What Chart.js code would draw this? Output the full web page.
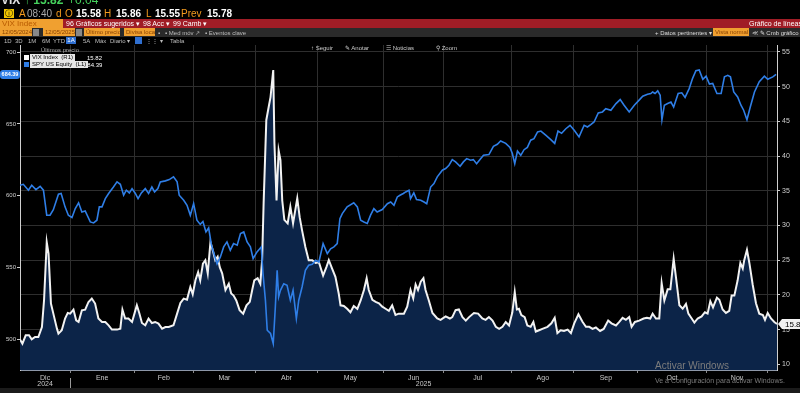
<!doctype html>
<html>
<head>
<meta charset="utf-8" />
<title>VIX Index vs SPY US Equity</title>
<script src="https://cdn.jsdelivr.net/npm/chart.js@4.4.1/dist/chart.umd.min.js"></script>
<style>
  html, body { margin: 0; padding: 0; background: #000; }
  body { width: 800px; height: 393px; position: relative; overflow: hidden;
         font-family: "Liberation Sans", Arial, sans-serif; }
  canvas { position: absolute; left: 0; top: 0; z-index: 1; }
  .t { position: absolute; white-space: nowrap; line-height: 1; z-index: 2; }
  .bar { position: absolute; left: 0; width: 800px; z-index: 2; }
  .ob { position: absolute; background: #f0a030; color: #8a4300; font-size: 6px;
        height: 8px; line-height: 8px; padding-left: 2px; z-index: 3; box-sizing: border-box;
        white-space: nowrap; overflow: hidden; }
  .g { color: #bdbdbd; font-size: 6px; }
  .o { color: #f39a1e; }
  .w { color: #fff; font-weight: bold; }
  .sq { position: absolute; width: 5px; height: 5px; z-index: 3; }
  .lab { position: absolute; background: #e6e6e6; color: #000; font-size: 6px;
         height: 7px; line-height: 7px; padding: 0 2px; z-index: 3; white-space: nowrap; }
</style>
</head>
<body>
<canvas id="chart" width="800" height="393"></canvas>

<!-- top quote line -->
<div class="t" style="left:1px;top:-6px;font-size:12px;font-weight:bold;color:#e0e0e0">VIX</div>
<div class="t" style="left:24px;top:-6px;font-size:12px;font-weight:bold;color:#45d05c">&#8593; 15.82</div>
<div class="t" style="left:68px;top:-6px;font-size:12px;color:#45d05c">+0.04</div>

<div class="t" style="left:4px;top:9px;width:10px;height:9px;background:#f2c400;color:#000;font-size:8px;text-align:center;line-height:9px">&#9432;</div>
<div class="t o" style="left:19px;top:9px;font-size:10px">A</div>
<div class="t" style="left:27px;top:9px;font-size:10px;color:#aaa">08:40</div>
<div class="t o" style="left:56px;top:9px;font-size:10px">d</div>
<div class="t o" style="left:65px;top:9px;font-size:10px">O</div>
<div class="t w" style="left:76px;top:9px;font-size:10px">15.58</div>
<div class="t o" style="left:104px;top:9px;font-size:10px">H</div>
<div class="t w" style="left:116px;top:9px;font-size:10px">15.86</div>
<div class="t o" style="left:146px;top:9px;font-size:10px">L</div>
<div class="t w" style="left:155px;top:9px;font-size:10px">15.55</div>
<div class="t o" style="left:181px;top:9px;font-size:10px">Prev</div>
<div class="t w" style="left:207px;top:9px;font-size:10px">15.78</div>

<!-- red menu bar -->
<div class="bar" style="top:19px;height:9px;background:#a01d26"></div>
<div class="ob" style="left:0;top:19px;width:63px;height:9px;line-height:9px;font-size:8px;color:#b85a00">VIX Index</div>
<div class="t" style="left:66px;top:20px;font-size:7px;color:#fff">96 Gráficos sugeridos &#9662;</div>
<div class="t" style="left:143px;top:20px;font-size:7px;color:#fff">98 Acc &#9662;</div>
<div class="t" style="left:173px;top:20px;font-size:7px;color:#fff">99 Camb &#9662;</div>
<div class="t" style="left:749px;top:20px;font-size:7px;color:#fff">Gráfico de líneas</div>

<!-- options bar -->
<div class="bar" style="top:28px;height:9px;background:#2a2a2a"></div>
<div class="ob" style="left:0;top:28px;width:32px">12/05/2024</div>
<div class="t" style="left:33px;top:29px;width:6px;height:7px;background:#888"></div>
<div class="ob" style="left:43px;top:28px;width:32px">12/05/2025</div>
<div class="t" style="left:76px;top:29px;width:6px;height:7px;background:#888"></div>
<div class="ob" style="left:84px;top:28px;width:36px">Último precio</div>
<div class="ob" style="left:124px;top:28px;width:31px">Divisa local</div>
<div class="t g" style="left:158px;top:30px">&#9642;</div>
<div class="t g" style="left:165px;top:30px">&#9642; Med móv &#8599;</div>
<div class="t g" style="left:205px;top:30px">&#9642; Eventos clave</div>
<div class="t g" style="left:655px;top:30px;color:#ddd">+ Datos pertinentes &#9662;</div>
<div class="ob" style="left:713px;top:28px;width:36px">Vista normal</div>
<div class="t g" style="left:752px;top:30px;color:#ddd">&#8810; &#9998; Cmb gráfico &#9662;</div>

<!-- period row -->
<div class="t g" style="left:4px;top:38px">1D</div>
<div class="t g" style="left:15px;top:38px">3D</div>
<div class="t g" style="left:28px;top:38px">1M</div>
<div class="t g" style="left:42px;top:38px">6M</div>
<div class="t g" style="left:53px;top:38px">YTD</div>
<div class="t g" style="left:66px;top:37px;width:10px;height:7px;background:#2f6fd0;color:#fff;text-align:center;line-height:7px">1A</div>
<div class="t g" style="left:83px;top:38px">5A</div>
<div class="t g" style="left:95px;top:38px">Máx</div>
<div class="t g" style="left:110px;top:38px">Diario &#9662;</div>
<div class="t g" style="left:135px;top:37px;width:7px;height:7px;background:#2f6fd0"></div>
<div class="t g" style="left:146px;top:38px">&#8942;&#8942; &#9662;</div>
<div class="t g" style="left:170px;top:38px">Tabla</div>

<!-- chart toolbar -->
<div class="t g" style="left:311px;top:45px;color:#ccc">&#8593; Seguir</div>
<div class="t g" style="left:345px;top:45px;color:#ccc">&#9998; Anotar</div>
<div class="t g" style="left:386px;top:45px;color:#ccc">&#9776; Noticias</div>
<div class="t g" style="left:436px;top:45px;color:#ccc">&#9906; Zoom</div>

<!-- legend -->
<div class="t g" style="left:41px;top:47px;color:#aaa">Últimos precio</div>
<div class="sq" style="left:24px;top:55px;background:#fff"></div>
<div class="lab" style="left:30px;top:54px">VIX Index &nbsp;(R1)</div>
<div class="t" style="left:87px;top:55px;font-size:6px;color:#fff">15.82</div>
<div class="sq" style="left:24px;top:62px;background:#2f7ee6"></div>
<div class="lab" style="left:30px;top:61px">SPY US Equity &nbsp;(L1)</div>
<div class="t" style="left:84px;top:62px;font-size:6px;color:#fff">684.39</div>

<!-- watermark -->
<div class="t" style="left:655px;top:361px;font-size:10px;color:#7c7c7c">Activar Windows</div>
<div class="t" style="left:655px;top:377px;font-size:7px;color:#7c7c7c">Ve a Configuración para activar Windows.</div>

<div style="position:absolute;left:0;top:388px;width:800px;height:5px;background:#1b1b1b;z-index:0"></div>

<script>
// trading sessions counted from 12/05/2024
const spySessions = [
  1.3, 2.4, 4.1, 5.2, 6.6, 8, 9.1, 10.2, 11.3, 12.4,
  14.1, 15, 16.3, 17.4, 18.6, 19.7, 20.8, 21.9, 23, 24.7,
  25.8, 26.9, 27.7, 28.6, 29.7, 30.8, 32.4, 33.6, 34.7, 35.8,
  36.7, 37.7, 38.6, 39.7, 40.6, 41.7, 43, 44.1, 45.2, 46.1,
  47.2, 48, 49.7, 51, 52.4, 53.6, 54.3, 55.8, 56.9, 58,
  59.1, 60.2, 61.3, 62.2, 63.2, 64.1, 65, 66.1, 66.9, 68,
  69.1, 70.2, 71.3, 72.4, 73.6, 74.7, 75.8, 76.9, 78, 78.9,
  80.2, 81.6, 82.2, 83, 83.6, 84.7, 85.6, 86.3, 86.9, 87.4,
  88, 89.1, 90.2, 91.3, 92.2, 93.3, 94.1, 95.2, 96.3, 97.4,
  98.6, 99.7, 100.8, 102.2, 103.6, 104.7, 105.8, 106.9, 107.8, 108.6,
  110.2, 112.4, 113.6, 114.7, 115.8, 116.9, 118, 119.1, 120.2, 121.9,
  123.6, 124.7, 125.8, 126.9, 127.8, 128.9, 129.7, 130.8, 131.3, 132.4,
  133.3, 134.7, 135.8, 136.7, 138, 139.1, 140.2, 141.9, 143, 144.1,
  145.2, 146.3, 147.8, 148.9, 150, 151.3, 152.2, 153.3, 154.7, 155.6,
  157.4, 158.9, 160.2, 161.3, 163, 164.4, 165.2, 166, 166.9, 168,
  169.1, 170.2, 171.3, 172.4, 173.6, 174.7, 176.3, 178, 179.3, 180.4,
  181.6, 183, 184.4, 185.8, 187.4, 189.1, 190.2, 191.3, 192.4, 193.8,
  195.2, 196.3, 198, 199.7, 201.1, 202.4, 204.1, 205.8, 207.4, 208.6,
  210.2, 211.3, 211.9, 212.7, 213.6, 214.4, 215, 215.8, 216.9, 218,
  218.9, 220.4, 221.6, 222.7, 224.1, 225.2, 226.3, 227.4, 228.6, 229.7,
  230.8, 231.9, 233.3, 234.7, 235.8, 236.9, 237.8, 238.9, 240.2, 241.3,
  242.2, 243.3, 244.4, 245.8, 247.4, 249.1, 250.2, 251.9, 253
];
const spyClose = [
  607.2, 607.9, 603.8, 607.2, 604.2, 606.5, 603.8, 586.4, 586.4, 590.2,
  601, 601.5, 592.2, 586.4, 584.7, 591, 595, 588.6, 589.3, 581.7,
  581, 582.9, 592.2, 592.2, 597.9, 601.5, 606, 609.6, 607.9, 600.3,
  603.8, 601.9, 604.9, 601.5, 597.9, 601.9, 604.9, 601.5, 606, 602.6,
  604.9, 609.6, 610.3, 611.2, 613.1, 609.6, 600.3, 596.8, 593.3, 586.4,
  594.4, 582.9, 580, 582, 574.7, 577.5, 566, 558, 552.6, 557.3,
  564.3, 567.8, 562, 566.6, 565.5, 573.6, 574.7, 567.8, 564.3, 556.1,
  560.8, 564.3, 545.7, 527.2, 506.3, 504, 497, 522.5, 548, 529.5,
  534.1, 538.7, 537.6, 527.2, 534.1, 514.4, 527.2, 536.4, 548, 551.5,
  552.2, 555, 553.8, 566.6, 559.6, 563, 564.3, 566.6, 584, 587.5,
  592.2, 595, 592.2, 582.9, 581.7, 580.6, 586.4, 591, 588.6, 590.3,
  594.4, 595.6, 593.3, 599.1, 600.3, 601.5, 602.6, 603.8, 597.9, 601.9,
  597.3, 596.8, 595.6, 594.4, 606, 608.4, 613.1, 617.7, 618.9, 621.2,
  625.1, 623.5, 620.5, 623.5, 625.8, 624.7, 625.1, 622.2, 625.8, 628.1,
  628.6, 634.4, 635.8, 638.1, 636.4, 633.6, 629.3, 622.3, 631.1, 628.1,
  632, 633.6, 638.6, 639.7, 644.4, 645, 642.1, 639, 636.4, 645,
  643.4, 646.6, 649, 645.5, 640.9, 649, 647.8, 649.5, 651.3, 657.6,
  658.3, 660.6, 659.5, 664.1, 666.9, 663, 658.3, 663, 666.5, 669.2,
  670.6, 671.1, 672.2, 671.1, 673, 670, 652.9, 663, 664.1, 665.2,
  661.7, 671.1, 671.6, 668.4, 674.7, 681.7, 687, 687.5, 681, 683.2,
  677.7, 678.2, 671.1, 671.1, 682.7, 683.8, 682.7, 672.2, 668.7, 663,
  659.5, 652.9, 661.7, 672.2, 679.3, 683.2, 681, 682.7, 684.39
];

const vixSessions = [
  1.3, 2.1, 3.2, 4.3, 5.2, 6.3, 7.4, 8.6, 9.3, 10.2,
  10.8, 11.6, 12.4, 13.6, 14.1, 15.2, 16.3, 17.2, 18, 19.1,
  20, 20.8, 21.9, 23, 24.1, 25.2, 26.3, 27.4, 28.6, 29.7,
  30.8, 31.9, 33.6, 34.7, 35.4, 36.3, 37.4, 38.6, 39.4, 40.2,
  41, 41.9, 43, 44.1, 45.2, 46.3, 47.4, 48.6, 49.7, 50.8,
  52.4, 53.6, 54.7, 55.8, 56.9, 58, 58.8, 59.7, 60.6, 61.3,
  62.2, 63, 63.8, 64.7, 65.6, 66.3, 67.1, 67.8, 68.6, 69.7,
  70.8, 71.6, 72.4, 73.3, 74.4, 75.6, 76.7, 77.8, 78.6, 79.3,
  80.4, 81.3, 81.9, 82.4, 83.3, 84.1, 84.7, 85.6, 86, 86.7,
  87.4, 88, 88.6, 89.3, 90.4, 91.3, 92.2, 93.6, 94.4, 95.2,
  96.3, 97.4, 98.6, 99.7, 100.8, 102.2, 103.3, 104.1, 105.2, 106.3,
  107.4, 108, 109.1, 110.2, 111.3, 112.4, 113.6, 114.7, 115.8, 116.7,
  117.4, 118.6, 119.7, 120.8, 121.9, 123, 124.1, 125.2, 126.3, 127.4,
  129.1, 130.2, 131.3, 132.2, 133, 133.8, 134.7, 135.6, 136.3, 137.4,
  138.6, 140.2, 141.3, 143, 144.4, 145.2, 146.3, 147.4, 148.6, 149.7,
  150.8, 152.4, 153.8, 155.2, 156.3, 157.4, 158.6, 159.7, 160.8, 161.9,
  163, 164.1, 165.2, 166, 166.7, 167.4, 168.2, 169.3, 170.2, 171.3,
  172.2, 173, 174.1, 175.2, 176.9, 178.2, 179.3, 180.2, 181.3, 182.4,
  183.6, 184.7, 185.8, 187.2, 188.6, 189.7, 190.8, 191.9, 193, 194.4,
  195.6, 197.1, 198.2, 199.7, 200.8, 201.9, 203, 204.1, 204.9, 206,
  207.4, 208.9, 210, 211.1, 211.9, 213, 214.1, 214.9, 215.8, 216.9,
  217.8, 218.9, 219.7, 220.8, 221.9, 223, 223.8, 224.9, 225.8, 226.9,
  228.2, 229.3, 230.2, 231.1, 232, 233.3, 234.1, 235.2, 236.3, 237.4,
  238.2, 239.1, 240.2, 241.1, 241.9, 242.4, 243.3, 244.1, 245.2, 246.3,
  247.4, 248.6, 249.3, 250.2, 251.3, 252.4, 253.3
];
const vixClose = [
  13.56, 12.98, 14.18, 14.18, 13.6, 13.93, 13.93, 15.37, 19.2, 27.6,
  25.95, 18.75, 17.3, 15.14, 14.42, 14.9, 16.59, 17.4, 17.3, 17.88,
  16.34, 16.1, 17.78, 17.88, 18.98, 19.47, 18.75, 16.59, 16.1, 16.1,
  15.62, 15, 15, 15.14, 17.88, 16.59, 16.59, 16.1, 17.3, 18.5,
  17.4, 15.95, 15.62, 16.59, 15.95, 16.1, 15.86, 15.14, 15.37, 15.37,
  15.62, 17.3, 18.83, 19.47, 19.32, 21.14, 20.09, 22.1, 23.3, 22.1,
  24.5, 25, 23.1, 27.6, 26.2, 25, 25.5, 24, 23.1, 20.7,
  21.6, 20.2, 19.9, 19.2, 17.8, 17.3, 18.5, 19, 20.7, 22.1,
  22.4, 21.6, 25, 33.2, 45.2, 47.1, 48.5, 52.4, 41.8, 33.6,
  40.8, 39.4, 33.6, 30.8, 30.3, 32.7, 30.3, 33.9, 31.2, 29.3,
  26.9, 25, 25, 24.6, 24.7, 22.8, 24, 25, 23.8, 22.6,
  20.2, 18.5, 18.4, 18, 17.5, 18.4, 18, 19.2, 20.7, 22.4,
  20.7, 19.3, 19, 18.8, 18.3, 18, 17.7, 18.5, 17.1, 17.3,
  17.3, 18.3, 20.7, 19.5, 21.5, 20.7, 21.9, 22.4, 20.7, 19.2,
  17.4, 16.6, 16.4, 16.9, 16.6, 16.8, 17.8, 17.9, 16.8, 16.3,
  16.8, 17.4, 17.3, 16.6, 16.4, 16.8, 16.3, 15.4, 15.1, 15.4,
  16.1, 15.6, 17.5, 20.4, 17.9, 18, 17.1, 16.8, 15.6, 15.4,
  16.1, 14.7, 14.9, 15.1, 15.4, 15.9, 16.7, 14.5, 14.9, 14.8,
  15, 14.5, 15.9, 17.2, 16.1, 15.4, 15.4, 15.1, 15.3, 14.8,
  15.1, 16.3, 15.9, 15.6, 16.1, 16.7, 16.4, 16.8, 15.4, 16.1,
  16.3, 16.6, 16.7, 16.6, 17.3, 16.6, 16.6, 21.7, 19.2, 20.8,
  20.8, 25.2, 22.4, 18.5, 18, 18.7, 17.3, 16.6, 16, 16.6,
  16.9, 17.5, 17.3, 19.1, 18.2, 19.6, 19.3, 17.9, 17.4, 17.7,
  19.9, 19.9, 22.1, 24.6, 23.8, 25, 26.5, 24.6, 21.5, 18.8,
  17.3, 17.1, 16.4, 17.4, 16.6, 16.1, 15.82
];

const monthNames = ["Dic", "Ene", "Feb", "Mar", "Abr", "May", "Jun", "Jul", "Ago", "Sep", "Oct", "Nov", "Dic"];
const monthStarts = [0, 18, 39.3, 59, 79.7, 100.3, 122.3, 142.3, 165, 185.7, 207, 229.7, 250.3];
const yearNames = ["2024", "2025"];
const yearStarts = [0, 18];

const xMin = 1.3, xMax = 253.3;
const FONT = '"Liberation Sans", Arial, sans-serif';

function spanOf(starts, i) {
  const end = i + 1 < starts.length ? starts[i + 1] : xMax;
  return [Math.max(starts[i], xMin), Math.min(end, xMax)];
}

const overlayPlugin = {
  id: "overlay",
  afterDraw(chart) {
    const { ctx, chartArea } = chart;
    const x = chart.scales.x, yL = chart.scales.yL, yR = chart.scales.yR;
    ctx.save();

    // year row under the months
    ctx.font = "7px " + FONT;
    ctx.fillStyle = "#c8c8c8";
    ctx.textAlign = "center";
    ctx.textBaseline = "top";
    yearNames.forEach((name, i) => {
      const [a, b] = spanOf(yearStarts, i);
      ctx.fillText(name, x.getPixelForValue((a + b) / 2), chartArea.bottom + 11);
      if (yearStarts[i] > xMin) {
        const px = Math.round(x.getPixelForValue(yearStarts[i])) + 0.5;
        ctx.strokeStyle = "#9a9a9a";
        ctx.lineWidth = 1;
        ctx.beginPath();
        ctx.moveTo(px, chartArea.bottom + 8);
        ctx.lineTo(px, chartArea.bottom + 18);
        ctx.stroke();
      }
    });

    // last value tags
    const spyLast = spyClose[spyClose.length - 1];
    const ys = yL.getPixelForValue(spyLast);
    ctx.fillStyle = "#2f7ee6";
    ctx.beginPath();
    ctx.roundRect(0, ys - 4.5, 20, 9, 3);
    ctx.fill();
    ctx.fillStyle = "#fff";
    ctx.font = "bold 5.5px " + FONT;
    ctx.textAlign = "center";
    ctx.textBaseline = "middle";
    ctx.fillText(spyLast.toFixed(2), 10, ys + 0.5);

    const vixLast = vixClose[vixClose.length - 1];
    const yv = yR.getPixelForValue(vixLast);
    const rx = chartArea.right + 1;
    ctx.fillStyle = "#f2f2f2";
    ctx.beginPath();
    ctx.moveTo(rx, yv);
    ctx.lineTo(rx + 4, yv - 5);
    ctx.lineTo(800, yv - 5);
    ctx.lineTo(800, yv + 5);
    ctx.lineTo(rx + 4, yv + 5);
    ctx.closePath();
    ctx.fill();
    ctx.fillStyle = "#000";
    ctx.font = "8px " + FONT;
    ctx.textAlign = "left";
    ctx.fillText(vixLast.toFixed(2), rx + 7, yv + 0.5);

    ctx.restore();
  }
};

const ctx = document.getElementById("chart").getContext("2d");
new Chart(ctx, {
  type: "line",
  data: {
    datasets: [
      {
        label: "SPY US Equity (L1)",
        data: spySessions.map((s, i) => ({ x: s, y: spyClose[i] })),
        yAxisID: "yL",
        borderColor: "#2f7ee6",
        borderWidth: 1.6,
        pointRadius: 0,
        tension: 0,
        fill: false
      },
      {
        label: "VIX Index (R1)",
        data: vixSessions.map((s, i) => ({ x: s, y: vixClose[i] })),
        yAxisID: "yR",
        borderColor: "#f2f2f2",
        borderWidth: 2,
        pointRadius: 0,
        tension: 0,
        fill: "start",
        backgroundColor: "#0c2448"
      }
    ]
  },
  options: {
    responsive: false,
    animation: false,
    layout: { padding: { top: 45, left: 0, right: 0, bottom: 0 } },
    plugins: { legend: { display: false }, tooltip: { enabled: false } },
    scales: {
      x: {
        type: "linear",
        min: xMin,
        max: xMax,
        afterBuildTicks(scale) {
          const ticks = [];
          monthNames.forEach((name, i) => {
            const [a, b] = spanOf(monthStarts, i);
            if (monthStarts[i] > xMin) ticks.push({ value: monthStarts[i], edge: true });
            if (b - a > 6) ticks.push({ value: (a + b) / 2, name: name });
          });
          ticks.sort((p, q) => p.value - q.value);
          scale.ticks = ticks;
        },
        afterFit(scale) { scale.height = 23; },
        grid: {
          color: (c) => (c.tick && c.tick.edge ? "#2e2e2e" : "rgba(0,0,0,0)"),
          tickColor: (c) => (c.tick && c.tick.edge ? "#8a8a8a" : "rgba(0,0,0,0)"),
          tickLength: 3
        },
        border: { color: "#8d97a8", width: 1 },
        ticks: {
          autoSkip: false,
          maxRotation: 0,
          padding: 1,
          color: "#c8c8c8",
          font: { size: 7, family: FONT },
          callback: (v, i, t) => t[i].name || ""
        }
      },
      yL: {
        type: "linear",
        position: "left",
        min: 478.6,
        max: 704.9,
        afterFit(scale) { scale.width = 20; },
        grid: { drawOnChartArea: false, tickLength: 3, tickColor: "#cfcfcf" },
        border: { color: "#d0d0d0", width: 1 },
        ticks: {
          stepSize: 50,
          includeBounds: false,
          padding: 1,
          color: "#cfcfcf",
          font: { size: 6, family: FONT }
        }
      },
      yR: {
        type: "linear",
        position: "right",
        min: 9.18,
        max: 56,
        afterFit(scale) { scale.width = 23; },
        grid: { color: "#2e2e2e", tickLength: 3, tickColor: "#cfcfcf" },
        border: { color: "#d0d0d0", width: 1 },
        ticks: {
          stepSize: 5,
          includeBounds: false,
          padding: 2,
          color: "#cfcfcf",
          font: { size: 7, family: FONT }
        }
      }
    }
  },
  plugins: [overlayPlugin]
});
</script>
</body>
</html>
